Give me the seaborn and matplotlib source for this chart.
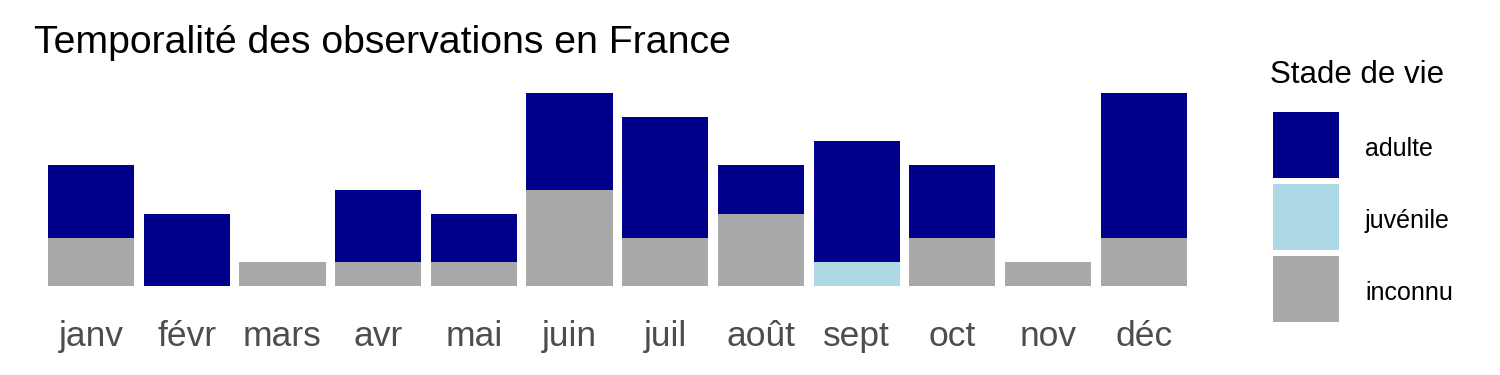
import matplotlib
matplotlib.use("Agg")
import matplotlib.pyplot as plt
from matplotlib.patches import Rectangle
import seaborn as sns
import pandas as pd

months = ["janv", "févr", "mars", "avr", "mai", "juin", "juil", "août", "sept", "oct", "nov", "déc"]
adulte = [3, 3, 0, 3, 2, 4, 5, 2, 5, 3, 0, 6]
juvenile = [0, 0, 0, 0, 0, 0, 0, 0, 1, 0, 0, 0]
inconnu = [2, 0, 1, 1, 1, 4, 2, 3, 0, 2, 1, 2]
stages = ["adulte", "juvénile", "inconnu"]
colors = {"adulte": "#00008B", "juvénile": "#ADD8E6", "inconnu": "#A9A9A9"}

rows = []
for i, m in enumerate(months):
    for st, vals in zip(stages, [adulte, juvenile, inconnu]):
        rows.append({"pos": i, "mois": m, "stade": st, "n": vals[i]})
df = pd.DataFrame(rows)

sns.set_theme(style="white")
plt.rcParams["font.family"] = ["Liberation Sans", "DejaVu Sans"]

W, H = 1500, 375
fig = plt.figure(figsize=(15, 3.75), dpi=100)
ax = fig.add_axes([33.6 / W, (H - 295.6) / H, (1201.2 - 33.6) / W, (295.6 - 83.4) / H])

sns.histplot(data=df, x="pos", weights="n", hue="stade", hue_order=stages,
             multiple="stack", discrete=True, shrink=0.9, palette=colors,
             alpha=1, linewidth=0, edgecolor="none", legend=False, ax=ax)

ax.set_xlim(-0.6, 11.6)
ax.set_ylim(-0.4, 8.4)
ax.set_xticks(range(len(months)))
ax.set_xticklabels(months, fontsize=25.5, color="#4D4D4D")
ax.set_yticks([])
ax.tick_params(axis="x", length=0, pad=17.5)
ax.set_xlabel("")
ax.set_ylabel("")
for s in ax.spines.values():
    s.set_visible(False)

fig.text(34 / W, (H - 52.7) / H, "Temporalité des observations en France",
         fontsize=28.3, color="black", ha="left", va="baseline")

# legend
fig.text(1270.5 / W, (H - 83.3) / H, "Stade de vie", fontsize=22.5,
         color="black", ha="left", va="baseline")
for k, st in enumerate(stages):
    top = 112 + 72 * k
    fig.patches.append(Rectangle((1273 / W, (H - top - 66) / H), 66 / W, 66 / H,
                                 transform=fig.transFigure, facecolor=colors[st],
                                 edgecolor="none"))
    fig.text(1365 / W, (H - (156 + 72 * k)) / H, st, fontsize=18,
             color="black", ha="left", va="baseline")

fig.savefig("out.png", dpi=100, facecolor="white")
